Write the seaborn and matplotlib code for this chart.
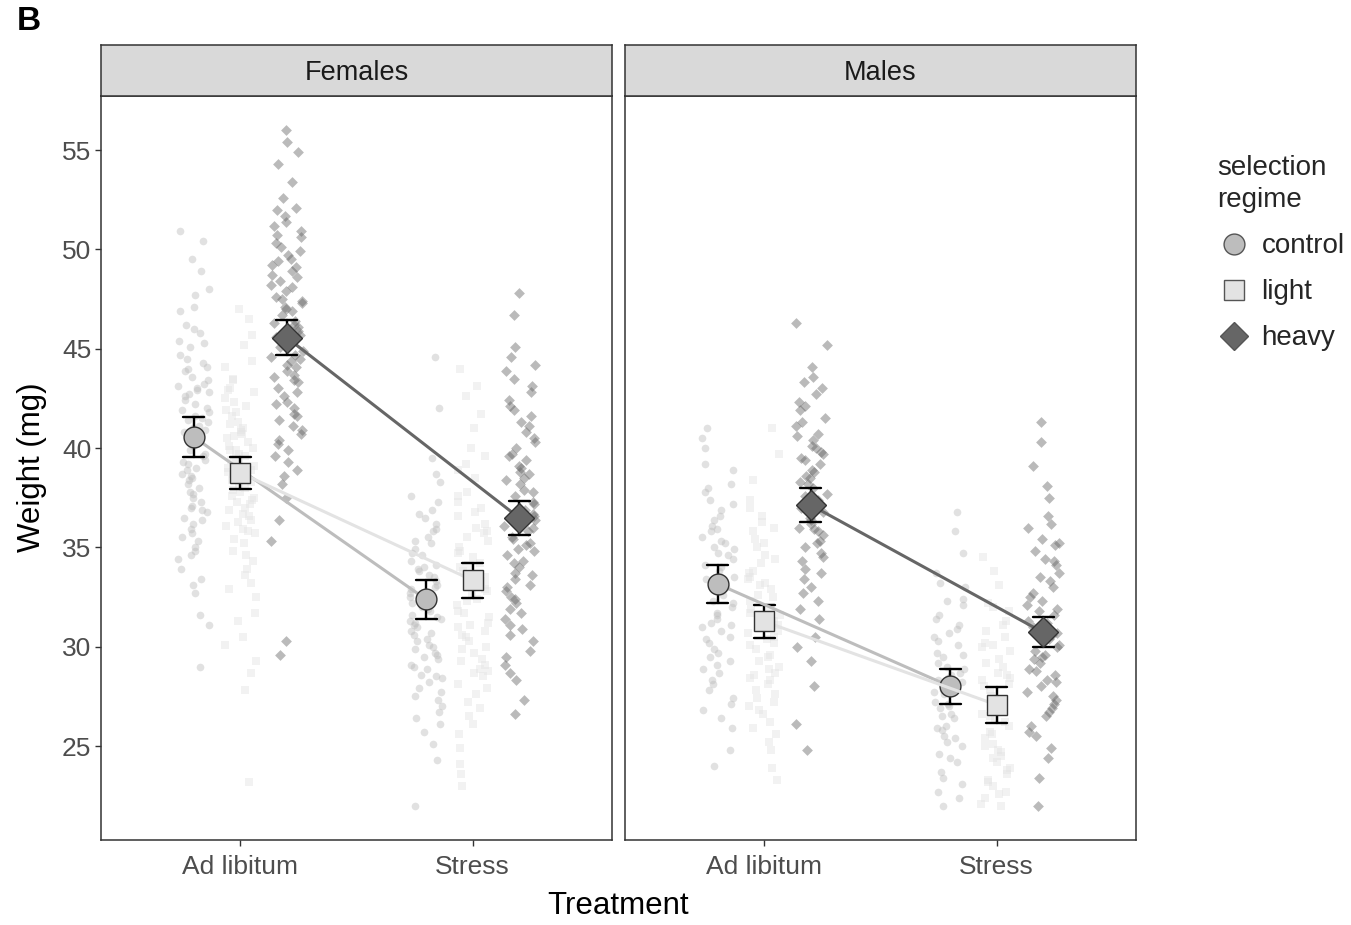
import numpy as np
import pandas as pd
import matplotlib
matplotlib.use("Agg")
import matplotlib.pyplot as plt
import matplotlib.transforms as mtransforms
from matplotlib.lines import Line2D
import seaborn as sns

sexes = ["Females", "Males"]
treatments = ["Ad libitum", "Stress"]
regimes = ["control", "light", "heavy"]

# Individual weights (mg)
f_adlib_control = [50.9, 50.4, 49.5, 48.9, 48.0, 47.7, 47.1, 46.9, 46.2, 46.0, 45.8, 45.3, 45.1, 44.7,
                   44.5, 44.1, 43.9, 43.6, 43.4, 43.1, 42.9, 42.8, 42.4, 42.2, 42.0, 41.9, 41.6, 41.5,
                   41.1, 41.0, 40.8, 40.5, 40.3, 40.2, 39.9, 39.7, 39.6, 39.2, 39.0, 38.9, 38.5, 38.4,
                   38.0, 37.8, 37.7, 37.3, 37.0, 36.8, 36.5, 36.4, 35.9, 35.7, 35.3, 35.0, 34.6, 34.4,
                   33.9, 33.4, 32.7, 31.6, 31.1, 29.0,
                   45.4, 44.0, 43.0, 42.6, 41.8, 41.3, 40.9, 40.1, 39.4, 38.7, 38.2, 37.5, 36.9, 36.2,
                   35.5, 42.7, 41.4, 40.6, 39.3, 38.6, 37.1, 44.3, 43.2, 34.8, 33.1]
f_adlib_light = [47.0, 46.5, 45.7, 45.2, 44.4, 44.1, 43.5, 43.4, 42.9, 42.8, 42.5, 42.1, 41.9, 41.8,
                 41.3, 41.2, 40.9, 40.7, 40.6, 40.3, 40.1, 39.9, 39.9, 39.5, 39.4, 39.1, 38.9, 38.8,
                 38.5, 38.4, 38.1, 37.9, 37.8, 37.5, 37.3, 37.0, 36.7, 36.6, 36.1, 35.8, 35.7, 35.2,
                 34.8, 34.6, 33.9, 33.6, 32.9, 32.5, 31.7, 31.3, 30.5, 30.1, 29.3, 28.7, 27.8, 23.2,
                 43.0, 42.3, 41.6, 41.0, 40.5, 40.0, 39.7, 39.3, 39.0, 38.6, 38.3, 38.0, 37.6, 37.2,
                 36.9, 36.4, 35.9, 35.4, 40.8, 39.6, 38.7, 37.4, 36.3, 34.3, 33.2]
f_adlib_heavy = [56.0, 55.4, 54.9, 54.3, 53.4, 52.6, 52.1, 52.0, 51.4, 51.2, 50.7, 50.6, 50.1, 49.9,
                 49.7, 49.2, 49.1, 48.7, 48.6, 48.2, 48.1, 47.6, 47.5, 47.3, 47.0, 46.9, 46.4, 46.3,
                 46.1, 45.7, 45.6, 45.2, 45.1, 44.7, 44.6, 44.2, 44.1, 43.7, 43.6, 43.3, 43.0, 42.8,
                 42.3, 42.2, 41.7, 41.6, 41.1, 40.9, 40.4, 40.2, 39.6, 39.3, 38.6, 38.2, 37.5, 36.4,
                 35.3, 30.3, 29.6,
                 51.7, 50.9, 50.3, 49.5, 48.9, 48.4, 47.9, 47.4, 46.7, 46.2, 45.9, 45.4, 44.9, 44.4,
                 43.9, 43.4, 42.6, 42.0, 41.4, 40.7, 39.9, 49.4, 47.1, 44.5, 38.9]
f_stress_control = [44.6, 42.0, 39.5, 38.7, 38.3, 37.6, 37.3, 36.7, 36.5, 35.9, 35.8, 35.3, 35.2, 34.7,
                    34.6, 34.1, 34.0, 33.6, 33.5, 33.1, 33.0, 32.7, 32.6, 32.3, 32.2, 31.9, 31.8, 31.5,
                    31.4, 31.1, 31.0, 30.7, 30.6, 30.3, 30.1, 29.9, 29.7, 29.4, 29.1, 28.9, 28.5, 28.4,
                    27.9, 27.5, 27.3, 26.7, 26.4, 25.7, 25.1, 24.3, 22.0,
                    36.9, 36.2, 35.5, 34.9, 34.3, 33.8, 33.3, 32.9, 32.5, 32.0, 31.6, 31.2, 30.8, 30.4,
                    30.0, 29.5, 29.0, 28.6, 28.2, 27.7, 27.0, 33.9, 31.3, 29.6, 26.1]
f_stress_light = [44.0, 43.1, 42.6, 41.7, 41.0, 40.0, 39.6, 38.9, 38.5, 37.8, 37.6, 37.0, 36.8, 36.2,
                  36.0, 35.5, 35.3, 34.8, 34.7, 34.2, 34.1, 33.6, 33.5, 33.0, 32.9, 32.4, 32.3, 31.8,
                  31.7, 31.2, 31.1, 30.6, 30.5, 30.0, 29.9, 29.4, 29.3, 28.8, 28.7, 28.1, 27.9, 27.2,
                  26.9, 26.1, 25.6, 24.1, 23.6, 23.0,
                  37.3, 36.6, 35.8, 35.0, 34.5, 34.0, 33.8, 33.3, 32.8, 32.6, 32.1, 31.5, 31.0, 30.3,
                  29.7, 29.1, 28.5, 27.6, 26.5, 35.7, 33.1, 30.8, 28.9, 24.9, 39.2]
f_stress_heavy = [47.8, 46.7, 45.1, 44.2, 43.9, 43.1, 42.8, 42.1, 41.9, 41.3, 41.1, 40.5, 40.3, 39.7,
                  39.6, 39.1, 39.0, 38.5, 38.4, 37.9, 37.8, 37.3, 37.2, 36.7, 36.6, 36.1, 36.0, 35.5,
                  35.4, 34.9, 34.8, 34.3, 34.2, 33.7, 33.6, 33.1, 33.0, 32.5, 32.4, 31.9, 31.7, 31.1,
                  30.9, 30.3, 29.8, 29.5, 28.7, 28.3, 27.3, 26.6,
                  44.6, 43.5, 42.4, 41.6, 40.8, 40.0, 39.4, 38.8, 38.2, 37.6, 37.0, 36.4, 35.8, 35.2,
                  34.6, 34.0, 33.4, 32.8, 32.2, 31.4, 30.6, 38.7, 36.9, 35.1, 29.1]
m_adlib_control = [41.0, 40.5, 40.0, 39.2, 38.9, 38.2, 38.0, 37.4, 37.2, 36.6, 36.4, 35.9, 35.8, 35.3,
                   35.2, 34.7, 34.6, 34.1, 34.0, 33.5, 33.4, 32.9, 32.8, 32.3, 32.2, 31.7, 31.6, 31.1,
                   31.0, 30.5, 30.4, 29.9, 29.7, 29.1, 28.9, 28.3, 28.1, 27.4, 27.1, 26.4, 25.9, 24.8,
                   24.0,
                   37.8, 36.9, 36.1, 35.5, 34.9, 34.4, 33.8, 33.2, 32.6, 32.0, 31.4, 30.8, 30.2, 29.5,
                   28.7, 27.8, 26.8, 35.0, 33.0, 31.2, 29.3]
m_adlib_light = [41.0, 39.7, 38.4, 37.4, 37.0, 36.3, 36.0, 35.4, 35.2, 34.6, 34.4, 33.8, 33.7, 33.2,
                 33.1, 32.6, 32.5, 32.0, 31.9, 31.4, 31.3, 30.8, 30.7, 30.2, 30.1, 29.6, 29.5, 29.0,
                 28.9, 28.4, 28.3, 27.8, 27.6, 27.0, 26.8, 26.2, 25.9, 25.2, 24.8, 23.9, 23.3,
                 36.6, 35.8, 35.0, 34.2, 33.5, 32.9, 32.3, 31.7, 31.1, 30.5, 29.9, 29.3, 28.7, 28.1,
                 27.4, 26.6, 25.6, 33.4, 31.6, 30.4, 28.6, 27.2]
m_adlib_heavy = [46.3, 45.2, 44.1, 43.3, 43.0, 42.3, 42.1, 41.5, 41.3, 40.7, 40.6, 40.1, 40.0, 39.5,
                 39.4, 38.9, 38.8, 38.3, 38.2, 37.7, 37.6, 37.1, 37.0, 36.5, 36.4, 35.9, 35.8, 35.3,
                 35.2, 34.7, 34.5, 33.9, 33.7, 33.0, 32.7, 31.9, 31.4, 30.5, 30.0, 28.0, 26.1, 24.8,
                 43.6, 42.7, 41.9, 41.1, 40.4, 39.8, 39.2, 38.6, 38.0, 37.4, 36.8, 36.2, 35.6, 35.0,
                 34.3, 33.4, 32.3, 39.7, 38.5, 37.3, 36.0, 29.3]
m_stress_control = [36.8, 35.8, 34.7, 33.7, 33.2, 32.4, 32.1, 31.4, 31.1, 30.5, 30.3, 29.7, 29.5, 29.0,
                    28.9, 28.4, 28.3, 27.8, 27.7, 27.2, 27.1, 26.6, 26.5, 26.0, 25.9, 25.4, 25.2, 24.6,
                    24.4, 23.7, 23.4, 22.7, 22.4, 22.0,
                    33.0, 32.3, 31.6, 30.9, 30.1, 29.6, 29.2, 28.7, 28.2, 27.6, 27.0, 26.4, 25.8, 25.0,
                    24.2, 23.1, 30.7, 28.6, 26.9, 25.5]
m_stress_light = [34.5, 33.8, 33.1, 32.2, 31.8, 31.1, 30.8, 30.2, 30.0, 29.4, 29.2, 28.7, 28.6, 28.1,
                  28.0, 27.5, 27.4, 26.9, 26.8, 26.3, 26.2, 25.7, 25.6, 25.1, 25.0, 24.5, 24.4, 23.9,
                  23.8, 23.3, 23.2, 22.7, 22.6, 22.1, 22.0,
                  32.0, 31.3, 30.5, 29.8, 29.0, 28.4, 27.8, 27.2, 26.6, 26.0, 25.4, 24.8, 24.2, 23.6,
                  23.0, 22.4, 30.1, 28.3, 26.5, 24.7]
m_stress_heavy = [41.3, 40.3, 39.1, 38.1, 37.5, 36.6, 36.2, 35.4, 35.1, 34.4, 34.1, 33.5, 33.3, 32.7,
                  32.5, 31.9, 31.8, 31.3, 31.2, 30.7, 30.6, 30.1, 30.0, 29.5, 29.4, 28.9, 28.8, 28.3,
                  28.2, 27.7, 27.5, 26.9, 26.7, 26.0, 25.7, 24.9, 24.4, 23.4, 22.0,
                  36.0, 35.2, 34.3, 33.7, 33.0, 32.3, 31.6, 31.0, 30.4, 29.8, 29.2, 28.6, 28.0, 27.3,
                  26.5, 25.5, 34.8, 32.1, 29.6, 27.1]

# Group means and error-bar half widths, ordered [Ad libitum, Stress]
f_control_mean = [40.55, 32.38]
f_light_mean = [38.75, 33.34]
f_heavy_mean = [45.56, 36.49]
m_control_mean = [33.15, 28.00]
m_light_mean = [31.27, 27.07]
m_heavy_mean = [37.13, 30.72]
f_control_err = [1.00, 0.98]
f_light_err = [0.80, 0.89]
f_heavy_err = [0.88, 0.86]
m_control_err = [0.95, 0.88]
m_light_err = [0.83, 0.90]
m_heavy_err = [0.86, 0.76]

raw_sets = {
    ("Females", "control"): (f_adlib_control, f_stress_control),
    ("Females", "light"): (f_adlib_light, f_stress_light),
    ("Females", "heavy"): (f_adlib_heavy, f_stress_heavy),
    ("Males", "control"): (m_adlib_control, m_stress_control),
    ("Males", "light"): (m_adlib_light, m_stress_light),
    ("Males", "heavy"): (m_adlib_heavy, m_stress_heavy),
}
summary_sets = {
    ("Females", "control"): (f_control_mean, f_control_err),
    ("Females", "light"): (f_light_mean, f_light_err),
    ("Females", "heavy"): (f_heavy_mean, f_heavy_err),
    ("Males", "control"): (m_control_mean, m_control_err),
    ("Males", "light"): (m_light_mean, m_light_err),
    ("Males", "heavy"): (m_heavy_mean, m_heavy_err),
}

raw_rows = []
for (sex, reg), per_trt in raw_sets.items():
    for trt, vals in zip(treatments, per_trt):
        raw_rows += [(sex, trt, reg, v) for v in vals]
raw = pd.DataFrame(raw_rows, columns=["sex", "treatment", "regime", "weight"])

# each cell holds its interval ends; their mean is the group mean
sum_rows = []
for (sex, reg), (means, errs) in summary_sets.items():
    for trt, m, e in zip(treatments, means, errs):
        sum_rows += [(sex, trt, reg, m - e), (sex, trt, reg, m + e)]
summ = pd.DataFrame(sum_rows, columns=["sex", "treatment", "regime", "weight"])

sns.set_theme(style="white")
plt.rcParams["font.family"] = ["Liberation Sans", "DejaVu Sans"]

palette = {"control": "#bdbdbd", "light": "#e3e3e3", "heavy": "#666666"}
marker_of = {"control": "o", "light": "s", "heavy": "D"}
dodge_off = {"control": -0.2, "light": 0.0, "heavy": 0.2}
edge = "#333333"

W, H = 1351, 925
fig = plt.figure(figsize=(W / 100, H / 100), dpi=100)
panel_x = [101, 625]
panel_w = 511
panel_top, panel_bot, strip_top = 96, 840, 45

np.random.seed(7)
axes = []
for i, sex in enumerate(sexes):
    ax = fig.add_axes([panel_x[i] / W, 1 - panel_bot / H, panel_w / W, (panel_bot - panel_top) / H])
    axes.append(ax)
    raw_s = raw[raw["sex"] == sex]
    for reg in regimes:
        n0 = len(ax.collections)
        sns.stripplot(data=raw_s[raw_s["regime"] == reg], x="treatment", y="weight",
                      order=treatments, jitter=0.07, color=palette[reg], marker=marker_of[reg],
                      size=5.5, alpha=0.45, linewidth=0, zorder=1, ax=ax)
        shift = mtransforms.Affine2D().translate(dodge_off[reg], 0) + ax.transData
        for coll in ax.collections[n0:]:
            coll.set_offset_transform(shift)

    sns.pointplot(data=summ[summ["sex"] == sex], x="treatment", y="weight", hue="regime",
                  order=treatments, hue_order=regimes, palette=palette,
                  markers=[marker_of[r] for r in regimes], linestyles="-", dodge=0.4,
                  errorbar=lambda v: (v.min(), v.max()), capsize=0.09,
                  err_kws={"color": "black", "linewidth": 1.7, "zorder": 3},
                  markersize=15, markeredgecolor=edge, markeredgewidth=1.0,
                  linewidth=2.2, zorder=4, legend=False, ax=ax)

    ax.set_xlim(-0.6, 1.6)
    ax.set_ylim(20.27, 57.72)
    ax.set_yticks([25, 30, 35, 40, 45, 50, 55])
    ax.set_xlabel("")
    ax.set_ylabel("")
    ax.tick_params(axis="both", which="major", direction="out", length=4.5, width=1.0,
                   color=edge, labelcolor="#4d4d4d", labelsize=19, pad=2.5,
                   left=True, bottom=True)
    ax.tick_params(axis="x", pad=6.5)
    if i > 0:
        ax.tick_params(axis="y", left=False, labelleft=False)
    for sp in ax.spines.values():
        sp.set_color(edge)
        sp.set_linewidth(1.1)
    ax.set_facecolor("white")
    ax.grid(False)

    strip = fig.add_axes([panel_x[i] / W, 1 - panel_top / H, panel_w / W, (panel_top - strip_top) / H])
    strip.set_facecolor("#d9d9d9")
    strip.set_xticks([])
    strip.set_yticks([])
    for sp in strip.spines.values():
        sp.set_color(edge)
        sp.set_linewidth(1.1)
    strip.text(0.5, 0.45, sex, ha="center", va="center", fontsize=19.5, color="#1a1a1a",
               transform=strip.transAxes)

fig.text(32 / W, 1 - 467 / H, "Weight (mg)", rotation=90, ha="center", va="center",
         fontsize=22.5, color="black")
fig.text(618 / W, 1 - 906 / H, "Treatment", ha="center", va="center", fontsize=22.5, color="black")
fig.text(17 / W, 1 - 22 / H, "B", ha="left", va="center", fontsize=24, fontweight="bold", color="black")

handles = [Line2D([], [], linestyle="none", marker=marker_of[r], markersize=15 if r != "heavy" else 14,
                  markerfacecolor=palette[r], markeredgecolor="#555555", markeredgewidth=1.0)
           for r in regimes]
leg = fig.legend(handles, regimes, title="selection\nregime", loc="upper left",
                 bbox_to_anchor=(1217 / W, 1 - 155 / H), frameon=False, fontsize=20,
                 title_fontsize=20, alignment="left", handletextpad=0.4, labelspacing=0.72,
                 borderaxespad=0, handlelength=1.2, borderpad=0)
leg.get_title().set_linespacing(1.28)
leg._legend_box.sep = 15

fig.savefig("out.png", dpi=100, facecolor="white")
